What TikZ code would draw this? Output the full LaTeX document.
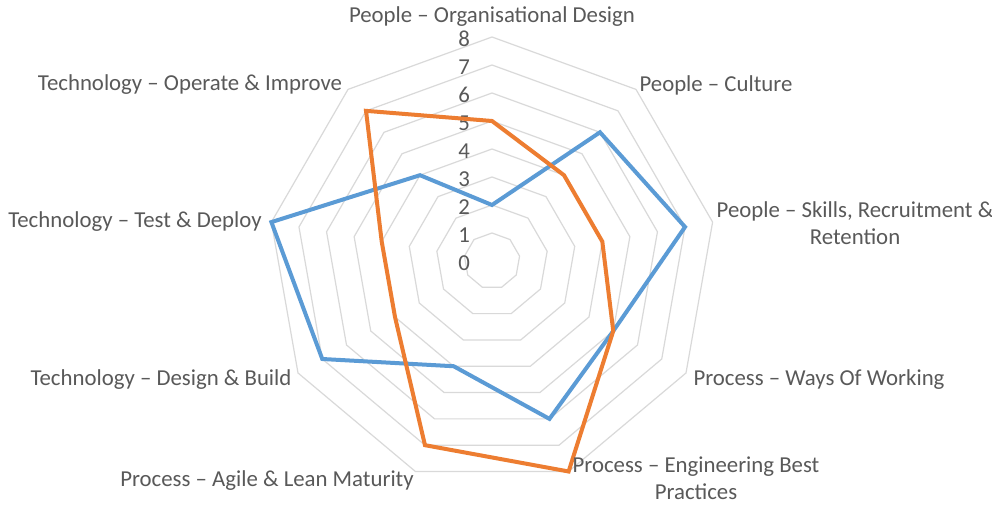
\documentclass[tikz,border=0pt]{standalone}
\usepackage{fontspec}
\setmainfont{Carlito}
\definecolor{txtgray}{HTML}{595959}
\definecolor{gridgray}{HTML}{D9D9D9}
\definecolor{serblue}{HTML}{5B9BD5}
\definecolor{serorange}{HTML}{ED7D31}
\begin{document}
\begin{tikzpicture}[x=1pt,y=1pt,
  lbl/.style={text=txtgray, font=\fontsize{22.8}{27}\selectfont, inner sep=0pt, align=center},
  ticklbl/.style={text=txtgray, font=\fontsize{22.8}{26}\selectfont, anchor=east, inner sep=0pt},
  ring/.style={draw=gridgray, line width=1.2pt, line join=miter},
  series/.style={line width=4pt, line join=miter, miter limit=10}]
\useasboundingbox (0,0) rectangle (992,505);
\fill[white] (0,0) rectangle (992,505);
\begin{scope}[shift={(492,244)}]
  % grid rings
  \foreach \k in {1,...,8} {
    \draw[ring] (90:\k*28) \foreach \i in {1,...,8} { -- (90-40*\i:\k*28) } -- cycle;
  }
  % tick labels
  \foreach \k in {0,...,8} {
    \node[ticklbl] (t\k) at (-22,\k*28-2) {\k};
  }
  % data coordinates
  \foreach \v [count=\i from 0] in {2,6,7,5,6,4,7,8,4} {
    \coordinate (b\i) at (90-40*\i:\v*28);
  }
  \foreach \v [count=\i from 0] in {5,4,4,5,8,7,4,4,7} {
    \coordinate (o\i) at (90-40*\i:\v*28);
  }
  \draw[series, serblue] (b0) -- (b1) -- (b2) -- (b3) -- (b4) -- (b5) -- (b6) -- (b7) -- (b8) -- cycle;
  \draw[series, serorange] (o0) -- (o1) -- (o2) -- (o3) -- (o4) -- (o5) -- (o6) -- (o7) -- (o8) -- cycle;
\end{scope}
% axis labels
\node[lbl] (l0) at (492,488) {People – Organisational Design};
\node[lbl] (l1) at (716,420) {People – Culture};
\node[lbl] (l2) at (855,282) {People – Skills, Recruitment \&\\Retention};
\node[lbl] (l3) at (819,125) {Process – Ways Of Working};
\node[lbl] (l4) at (696,27) {Process – Engineering Best\\Practices};
\node[lbl] (l5) at (267,24) {Process – Agile \& Lean Maturity};
\node[lbl] (l6) at (161,125) {Technology – Design \& Build};
\node[lbl] (l7) at (135,283) {Technology – Test \& Deploy};
\node[lbl] (l8) at (190,420) {Technology – Operate \& Improve};
\end{tikzpicture}
\end{document}
